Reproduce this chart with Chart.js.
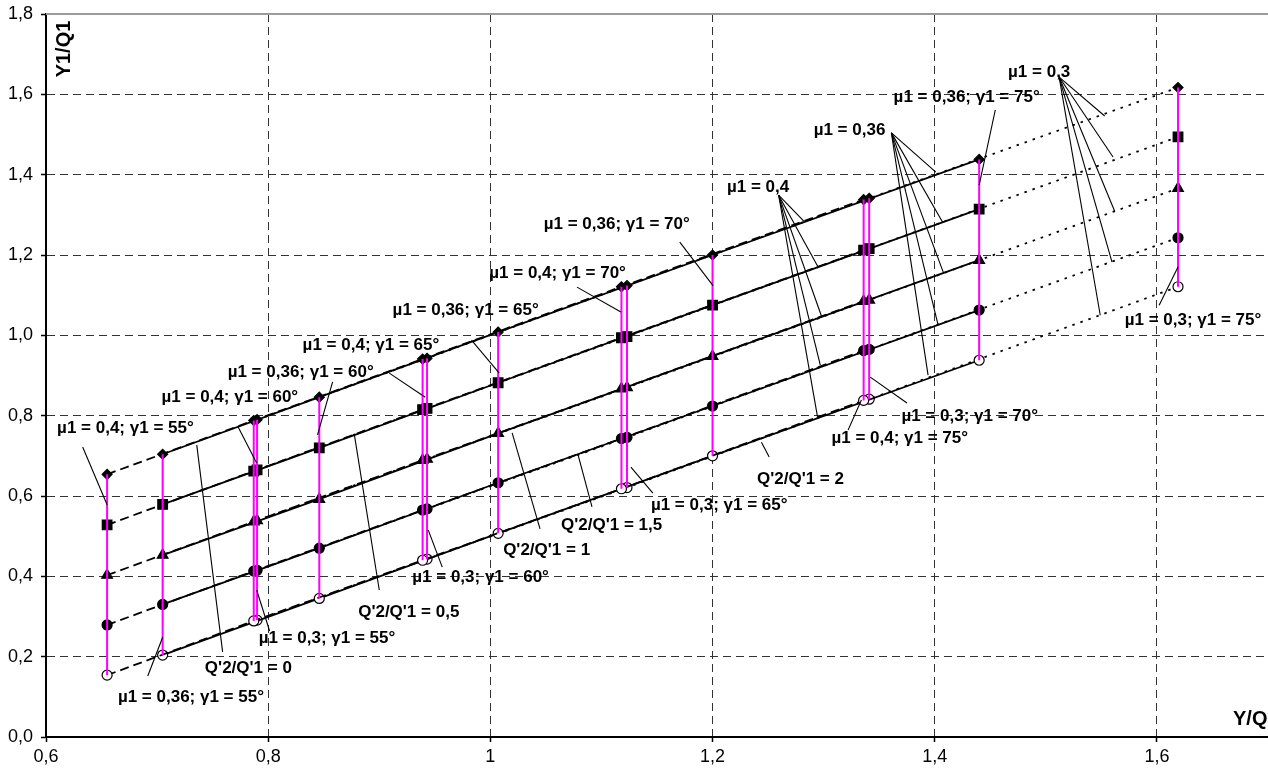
<!DOCTYPE html>
<html>
<head>
<meta charset="utf-8">
<script src="https://cdn.jsdelivr.net/npm/chart.js@4.4.1/dist/chart.umd.min.js"></script>
<style>
  html, body { margin: 0; padding: 0; background: #fff; }
  #wrap { width: 1268px; height: 771px; }
</style>
</head>
<body>
<div id="wrap"><canvas id="chart" width="1268" height="771"></canvas></div>
<script>
// each vertical group = one (mu1, gamma1) combination
const groupX     = [0.655, 0.705, 0.787, 0.790, 0.846, 0.939, 0.943, 1.007, 1.118, 1.123, 1.200, 1.336, 1.341, 1.440, 1.619];
const groupMu    = [0.4, 0.36, 0.4, 0.3, 0.36, 0.4, 0.3, 0.36, 0.4, 0.3, 0.36, 0.4, 0.3, 0.36, 0.3];
const groupGamma = [55, 55, 60, 55, 60, 65, 60, 65, 70, 65, 70, 75, 70, 75, 75];

// Y1/Q1 for each Q'2/Q'1 ratio
const yRatio0  = [0.654, 0.704, 0.788, 0.790, 0.846, 0.941, 0.943, 1.008, 1.121, 1.124, 1.200, 1.338, 1.341, 1.438, 1.617];
const yRatio05 = [0.528, 0.579, 0.662, 0.665, 0.720, 0.815, 0.818, 0.882, 0.994, 0.997, 1.075, 1.212, 1.216, 1.314, 1.494];
const yRatio1  = [0.403, 0.453, 0.536, 0.539, 0.592, 0.689, 0.692, 0.756, 0.867, 0.870, 0.948, 1.085, 1.088, 1.187, 1.366];
const yRatio15 = [0.279, 0.330, 0.413, 0.415, 0.470, 0.565, 0.568, 0.633, 0.743, 0.746, 0.824, 0.962, 0.965, 1.063, 1.243];
const yRatio2  = [0.154, 0.204, 0.289, 0.291, 0.345, 0.440, 0.443, 0.507, 0.618, 0.621, 0.700, 0.838, 0.841, 0.938, 1.121];

const ratioLabels = ['0', '0,5', '1', '1,5', '2'];
const muValues = [0.4, 0.36, 0.3];

const xTicks = [0.6, 0.8, 1.0, 1.2, 1.4, 1.6];
const xTickLabels = ['0,6', '0,8', '1', '1,2', '1,4', '1,6'];
const yTicks = [0, 0.2, 0.4, 0.6, 0.8, 1.0, 1.2, 1.4, 1.6, 1.8];
const yTickLabels = ['0,0', '0,2', '0,4', '0,6', '0,8', '1,0', '1,2', '1,4', '1,6', '1,8'];

// text labels with leader lines (data coordinates)
const notes = [
  { t: 'µ1 = 0,4; γ1 = 55°',  at: [0.610, 0.769], from: [0.633, 0.722], to: [[0.655, 0.578]] },
  { t: 'µ1 = 0,4; γ1 = 60°',  at: [0.704, 0.846], from: [0.7725, 0.774], to: [[0.7896, 0.682]] },
  { t: 'µ1 = 0,36; γ1 = 60°', at: [0.7635, 0.909], from: [0.858, 0.884], to: [[0.8444, 0.752]] },
  { t: 'µ1 = 0,4; γ1 = 65°',  at: [0.831, 0.976], from: [0.909, 0.906], to: [[0.9414, 0.846]] },
  { t: 'µ1 = 0,36; γ1 = 65°', at: [0.912, 1.063], from: [0.983, 0.988], to: [[1.008, 0.906]] },
  { t: 'µ1 = 0,4; γ1 = 70°',  at: [0.999, 1.155], from: [1.078, 1.120], to: [[1.1175, 1.058]] },
  { t: 'µ1 = 0,36; γ1 = 70°', at: [1.048, 1.277], from: [1.1705, 1.232], to: [[1.2006, 1.123]] },
  { t: 'µ1 = 0,4',  at: [1.213, 1.369], from: [1.2595, 1.349],
    to: [[1.283, 1.282], [1.295, 1.170], [1.298, 1.048], [1.297, 0.926], [1.2945, 0.797]] },
  { t: 'µ1 = 0,36', at: [1.291, 1.511], from: [1.361, 1.504],
    to: [[1.401, 1.4065], [1.407, 1.282], [1.408, 1.155], [1.403, 1.026], [1.394, 0.901]] },
  { t: 'µ1 = 0,3',  at: [1.466, 1.656], from: [1.512, 1.643],
    to: [[1.553, 1.546], [1.5605, 1.444], [1.562, 1.309], [1.5596, 1.1825], [1.549, 1.050]] },
  { t: 'µ1 = 0,36; γ1 = 75°', at: [1.363, 1.593], from: [1.4545, 1.561], to: [[1.440, 1.374]] },
  { t: 'µ1 = 0,3; γ1 = 75°',  at: [1.571, 1.038], from: [1.619, 1.170], to: [[1.602, 1.075]] },
  { t: 'µ1 = 0,3; γ1 = 70°',  at: [1.370, 0.799], from: [1.342, 0.896], to: [[1.375, 0.8315]] },
  { t: 'µ1 = 0,4; γ1 = 75°',  at: [1.307, 0.744], from: [1.334, 0.839], to: [[1.322, 0.764]] },
  { t: "Q'2/Q'1 = 2",   at: [1.240, 0.642],  from: [1.244, 0.734],  to: [[1.251, 0.697]] },
  { t: "Q'2/Q'1 = 1,5", at: [1.0636, 0.528], from: [1.079, 0.702],  to: [[1.0915, 0.573]] },
  { t: "Q'2/Q'1 = 1",   at: [1.0115, 0.4655], from: [1.0196, 0.757], to: [[1.0447, 0.518]] },
  { t: "Q'2/Q'1 = 0,5", at: [0.881, 0.311],  from: [0.8776, 0.752], to: [[0.900, 0.366]] },
  { t: "Q'2/Q'1 = 0",   at: [0.743, 0.172],  from: [0.7357, 0.727], to: [[0.759, 0.212]] },
  { t: 'µ1 = 0,3; γ1 = 55°',  at: [0.7914, 0.2465], from: [0.7896, 0.366], to: [[0.8013, 0.264]] },
  { t: 'µ1 = 0,36; γ1 = 55°', at: [0.6647, 0.0996], from: [0.7051, 0.249], to: [[0.6916, 0.152]] },
  { t: 'µ1 = 0,3; γ1 = 60°',  at: [0.9297, 0.398],  from: [0.9441, 0.515], to: [[0.9567, 0.423]] },
  { t: 'µ1 = 0,3; γ1 = 65°',  at: [1.1445, 0.5775], from: [1.1265, 0.672], to: [[1.1463, 0.607]] }
];

const FONT = '"Liberation Sans", Arial, sans-serif';
const ratioSeries = [yRatio0, yRatio05, yRatio1, yRatio15, yRatio2];
const markers = [
  { style: 'rectRot',  r: 5,   bg: '#000' },
  { style: 'rect',     r: 6.8, bg: '#000' },
  { style: 'triangle', r: 6.2, bg: '#000' },
  { style: 'circle',   r: 5,   bg: '#000' },
  { style: 'circle',   r: 5,   bg: '#fff' }
];
const muDash = { 0.4: [9, 5], 0.36: [], 0.3: [2.5, 6] };

const datasets = [];

// magenta verticals first so they are painted on top
groupX.forEach((gx, i) => {
  datasets.push({
    label: 'µ1 = ' + groupMu[i] + '; γ1 = ' + groupGamma[i] + '°',
    data: ratioSeries.map(s => ({ x: gx, y: s[i] })),
    showLine: true,
    borderColor: '#ff00ff',
    borderWidth: 2,
    pointRadius: 0
  });
});

muValues.forEach(mu => {
  const idx = groupX.map((_, i) => i).filter(i => groupMu[i] === mu);
  ratioSeries.forEach((s, k) => {
    const m = markers[k];
    datasets.push({
      label: "Q'2/Q'1 = " + ratioLabels[k] + ' (µ1 = ' + mu + ')',
      data: idx.map(i => ({ x: groupX[i], y: s[i] })),
      showLine: true,
      borderColor: '#000',
      borderWidth: 1.8,
      borderDash: muDash[mu],
      pointStyle: m.style,
      pointRadius: m.r,
      pointBackgroundColor: m.bg,
      pointBorderColor: '#000',
      pointBorderWidth: 1.2
    });
  });
});

const notesPlugin = {
  id: 'notes',
  afterDatasetsDraw(chart) {
    const { ctx, chartArea, scales: { x, y } } = chart;
    ctx.save();

    // plot area top edge
    ctx.strokeStyle = '#9a9a9a';
    ctx.lineWidth = 2;
    ctx.beginPath();
    ctx.moveTo(chartArea.left, chartArea.top);
    ctx.lineTo(chartArea.right, chartArea.top);
    ctx.stroke();

    // leader lines
    ctx.strokeStyle = '#000';
    ctx.lineWidth = 1.1;
    notes.forEach(n => {
      n.to.forEach(p => {
        ctx.beginPath();
        ctx.moveTo(x.getPixelForValue(n.from[0]), y.getPixelForValue(n.from[1]));
        ctx.lineTo(x.getPixelForValue(p[0]), y.getPixelForValue(p[1]));
        ctx.stroke();
      });
    });

    // label texts
    ctx.fillStyle = '#000';
    ctx.font = 'bold 17px ' + FONT;
    ctx.textAlign = 'left';
    ctx.textBaseline = 'middle';
    notes.forEach(n => {
      ctx.fillText(n.t, x.getPixelForValue(n.at[0]), y.getPixelForValue(n.at[1]));
    });

    // axis titles inside the plot
    ctx.font = 'bold 20px ' + FONT;
    ctx.fillText('Y/Q', chartArea.right - 35, chartArea.bottom - 18);
    ctx.translate(chartArea.left + 18.5, chartArea.top + 35);
    ctx.rotate(-Math.PI / 2);
    ctx.textAlign = 'center';
    ctx.fillText('Y1/Q1', 0, 0);
    ctx.restore();
  }
};

const gridColor = (edges) => (c) => (c.tick && edges.includes(c.tick.value)) ? 'rgba(0,0,0,0)' : '#333';

new Chart(document.getElementById('chart'), {
  type: 'scatter',
  data: { datasets },
  plugins: [notesPlugin],
  options: {
    responsive: false,
    animation: false,
    events: [],
    layout: { autoPadding: false, padding: { top: 14, right: 0, left: 0, bottom: 0 } },
    plugins: { legend: { display: false }, tooltip: { enabled: false } },
    scales: {
      x: {
        type: 'linear',
        min: 0.6,
        max: 1.7,
        afterBuildTicks: s => { s.ticks = xTicks.map(v => ({ value: v })); },
        afterFit: s => { s.height = 34; s.paddingLeft = 0; s.paddingRight = 0; },
        ticks: {
          padding: 4,
          color: '#000',
          font: { family: FONT, size: 18 },
          maxRotation: 0,
          callback: (v, i) => xTickLabels[i]
        },
        grid: {
          color: gridColor([0.6]),
          lineWidth: 1,
          tickLength: 5,
          tickColor: '#000',
          tickWidth: 1.5
        },
        border: { color: '#000', width: 2, dash: [8, 5] }
      },
      y: {
        type: 'linear',
        min: 0,
        max: 1.8,
        afterBuildTicks: s => { s.ticks = yTicks.map(v => ({ value: v })); },
        afterFit: s => { s.width = 46; s.paddingTop = 0; s.paddingBottom = 0; },
        ticks: {
          padding: 8,
          color: '#000',
          font: { family: FONT, size: 18 },
          callback: (v, i) => yTickLabels[i]
        },
        grid: {
          color: gridColor([0, 1.8]),
          lineWidth: 1,
          tickLength: 5,
          tickColor: '#000',
          tickWidth: 1.5
        },
        border: { color: '#000', width: 2, dash: [8, 5] }
      }
    }
  }
});
</script>
</body>
</html>
